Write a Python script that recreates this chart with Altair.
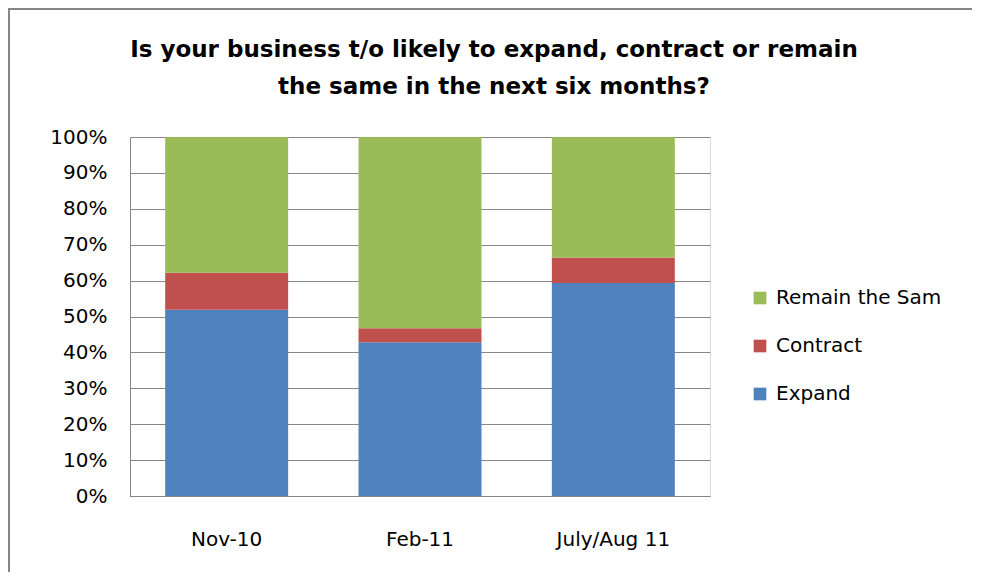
import altair as alt
import pandas as pd

periods = ["Nov-10", "Feb-11", "July/Aug 11"]
series = ["Expand", "Contract", "Remain the Sam"]
expand = [51.9, 42.8, 59.3]
contract = [10.3, 3.9, 7.1]
remain = [37.8, 53.3, 33.6]
colors = ["#4F81BD", "#C0504D", "#9BBB59"]
title_lines = ["Is your business t/o likely to expand, contract or remain",
               "the same in the next six months?"]

rows = []
for i, p in enumerate(periods):
    for j, (s, vals) in enumerate(zip(series, [expand, contract, remain])):
        rows.append({"period": p, "series": s, "value": vals[i], "order": j})
df = pd.DataFrame(rows)

FONT = "DejaVu Sans"

bars = alt.Chart(df).mark_bar().encode(
    x=alt.X("period:N", sort=periods, title=None,
            scale=alt.Scale(paddingInner=0.364, paddingOuter=0.182),
            axis=alt.Axis(labelAngle=0, labelFontSize=20, labelColor="#000000",
                          labelFont=FONT, labelPadding=33, ticks=False,
                          domainColor="#868686", grid=False)),
    y=alt.Y("value:Q", stack="normalize", title=None,
            scale=alt.Scale(domain=[0, 1]),
            axis=alt.Axis(format="%", values=[i / 10 for i in range(11)],
                          labelFontSize=20, labelColor="#000000", labelFont=FONT,
                          labelPadding=23, ticks=False, domainColor="#868686",
                          gridColor="#868686", gridOpacity=1)),
    color=alt.Color("series:N",
                    scale=alt.Scale(domain=series, range=colors),
                    sort=list(reversed(series)),
                    legend=alt.Legend(title=None, orient="none", legendX=620, legendY=151,
                                      labelFontSize=20, labelFont=FONT, labelColor="#000000",
                                      symbolType="square", symbolSize=160, rowPadding=28,
                                      symbolStrokeWidth=0, labelOffset=6, labelLimit=300,
                                      values=list(reversed(series)))),
    order=alt.Order("order:Q", sort="ascending"),
)

frame = alt.Chart(df).mark_rect(fill=None, stroke="#868686", strokeWidth=2).encode(
    x=alt.value(-121), x2=alt.value(845), y=alt.value(-128), y2=alt.value(460)
)

title_df = pd.DataFrame({"line": title_lines, "idx": [0, 1]})
title1 = alt.Chart(title_df.iloc[[0]]).mark_text(
    font=FONT, fontSize=23, fontWeight="bold", color="#000000", align="center", baseline="middle"
).encode(x=alt.value(364), y=alt.value(-87), text="line:N")
title2 = alt.Chart(title_df.iloc[[1]]).mark_text(
    font=FONT, fontSize=23, fontWeight="bold", color="#000000", align="center", baseline="middle"
).encode(x=alt.value(364), y=alt.value(-50), text="line:N")

chart = alt.layer(frame, bars, title1, title2).properties(
    width=580, height=359,
    padding={"left": 122, "top": 129, "right": 262, "bottom": 76},
    autosize=alt.AutoSizeParams(type="none"),
).configure_view(stroke=None).configure(background="white")

chart.save("out.html", embed_options={"renderer": "svg", "actions": False})
